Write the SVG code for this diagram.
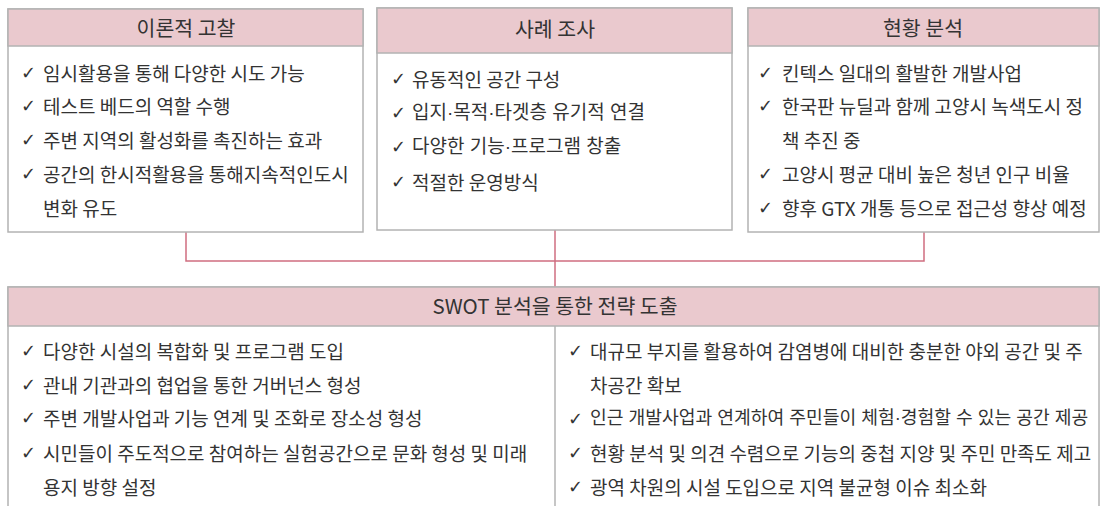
<svg xmlns="http://www.w3.org/2000/svg" width="1101" height="506" viewBox="0 0 1101 506">
<style>
.box{fill:#fff;stroke:#b3b3b3;stroke-width:1.5}
.hdr{fill:#eac9ce;stroke:#b3b3b3;stroke-width:1.5}
.ht{font-family:"Noto Sans CJK KR","Noto Sans",sans-serif;font-size:20.5px;fill:#333;text-anchor:middle;dominant-baseline:central}
.it{font-family:"Noto Sans CJK KR","Noto Sans",sans-serif;font-size:19px;fill:#333;dominant-baseline:central}
.md{font-family:"Liberation Sans","Noto Sans CJK KR",sans-serif}
.ck{font-family:"DejaVu Sans",sans-serif;font-size:18px;fill:#333;dominant-baseline:central}
.con{fill:none;stroke:#cf6e80;stroke-width:1.5}
</style>
<rect width="1101" height="506" fill="#fff"/>
<g id="connectors">
<polyline class="con" points="186,232 186,261 924,261 924,232"/>
<line class="con" x1="555" y1="230" x2="555" y2="287"/>
</g>
<g id="node-theory">
<rect class="box" x="8" y="9" width="355" height="223"/>
<rect class="hdr" x="8" y="9" width="355" height="37"/>
<text class="ht" x="186" y="27">이론적 고찰</text>
<text class="ck" x="21" y="72">✓</text><text class="it" x="43" y="72">임시활용을 통해 다양한 시도 가능</text>
<text class="ck" x="21" y="105">✓</text><text class="it" x="43" y="105">테스트 베드의 역할 수행</text>
<text class="ck" x="21" y="139">✓</text><text class="it" x="43" y="139">주변 지역의 활성화를 촉진하는 효과</text>
<text class="ck" x="21" y="173">✓</text><text class="it" x="43" y="173">공간의 한시적활용을 통해지속적인도시</text>
<text class="it" x="43" y="207">변화 유도</text>
</g>
<g id="node-case">
<rect class="box" x="377" y="8" width="355" height="222"/>
<rect class="hdr" x="377" y="8" width="355" height="45"/>
<text class="ht" x="555" y="28">사례 조사</text>
<text class="ck" x="391" y="78">✓</text><text class="it" x="412" y="78">유동적인 공간 구성</text>
<text class="ck" x="391" y="112">✓</text><text class="it md" x="412" y="112">입지·목적·타겟층 유기적 연결</text>
<text class="ck" x="391" y="146">✓</text><text class="it md" x="412" y="146">다양한 기능·프로그램 창출</text>
<text class="ck" x="391" y="181">✓</text><text class="it" x="412" y="181">적절한 운영방식</text>
</g>
<g id="node-status">
<rect class="box" x="748" y="8" width="351" height="224"/>
<rect class="hdr" x="748" y="8" width="351" height="38"/>
<text class="ht" x="923" y="27">현황 분석</text>
<text class="ck" x="758" y="72">✓</text><text class="it" x="782" y="72">킨텍스 일대의 활발한 개발사업</text>
<text class="ck" x="758" y="105">✓</text><text class="it" x="782" y="105">한국판 뉴딜과 함께 고양시 녹색도시 정</text>
<text class="it" x="782" y="139">책 추진 중</text>
<text class="ck" x="758" y="173">✓</text><text class="it" x="782" y="173">고양시 평균 대비 높은 청년 인구 비율</text>
<text class="ck" x="758" y="207">✓</text><text class="it" x="782" y="207">향후 GTX 개통 등으로 접근성 향상 예정</text>
</g>
<g id="node-swot">
<rect class="box" x="8" y="287" width="1091" height="240"/>
<rect class="hdr" x="8" y="287" width="1091" height="39"/>
<line x1="555" y1="326" x2="555" y2="506" stroke="#b3b3b3" stroke-width="1.5"/>
<text class="ht" x="555" y="305">SWOT 분석을 통한 전략 도출</text>
<text class="ck" x="21" y="350">✓</text><text class="it" x="43" y="350">다양한 시설의 복합화 및 프로그램 도입</text>
<text class="ck" x="21" y="384">✓</text><text class="it" x="43" y="384">관내 기관과의 협업을 통한 거버넌스 형성</text>
<text class="ck" x="21" y="417">✓</text><text class="it" x="43" y="417">주변 개발사업과 기능 연계 및 조화로 장소성 형성</text>
<text class="ck" x="21" y="452">✓</text><text class="it" x="43" y="452">시민들이 주도적으로 참여하는 실험공간으로 문화 형성 및 미래</text>
<text class="it" x="43" y="486">용지 방향 설정</text>
<text class="ck" x="568" y="350">✓</text><text class="it" x="590" y="350">대규모 부지를 활용하여 감염병에 대비한 충분한 야외 공간 및 주</text>
<text class="it" x="590" y="384">차공간 확보</text>
<text class="ck" x="568" y="418">✓</text><text class="it md" x="590" y="418" style="font-size:18.2px">인근 개발사업과 연계하여 주민들이 체험·경험할 수 있는 공간 제공</text>
<text class="ck" x="568" y="452">✓</text><text class="it" x="590" y="452">현황 분석 및 의견 수렴으로 기능의 중첩 지양 및 주민 만족도 제고</text>
<text class="ck" x="568" y="486">✓</text><text class="it" x="590" y="486">광역 차원의 시설 도입으로 지역 불균형 이슈 최소화</text>
</g>
</svg>
